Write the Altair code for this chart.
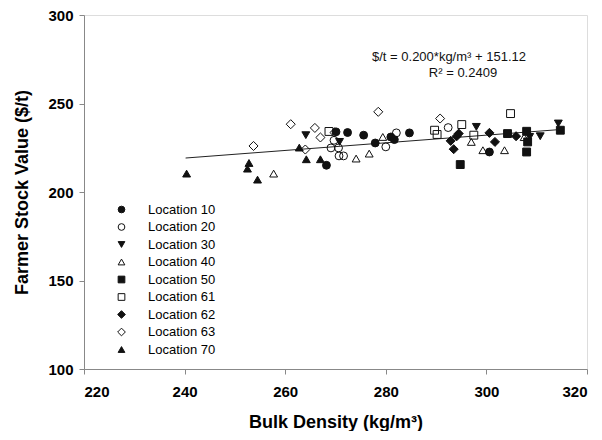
import altair as alt
import pandas as pd

# ---- data ----
loc10_x = [268.2, 272.4, 275.6, 277.9, 281.0, 281.7, 284.7, 270.1, 300.6]
loc10_y = [215.1, 233.6, 232.1, 227.7, 231.1, 229.6, 233.4, 234.0, 222.6]
loc20_x = [269.1, 270.6, 269.7, 270.7, 271.6, 280.0, 282.1, 292.4]
loc20_y = [224.9, 224.9, 229.2, 220.4, 220.4, 225.5, 233.4, 236.4]
loc30_x = [264.1, 270.8, 298.0, 314.3, 310.7, 308.6]
loc30_y = [232.1, 228.3, 236.8, 238.7, 231.5, 231.1]
loc40_x = [257.7, 274.1, 276.7, 279.4, 297.0, 299.3, 303.6, 307.5]
loc40_y = [210.4, 218.9, 221.7, 231.1, 228.3, 223.6, 223.6, 231.0]
loc50_x = [294.8, 304.2, 308.0, 308.0, 308.2, 314.7]
loc50_y = [215.5, 233.0, 234.3, 222.6, 228.3, 234.9]
loc61_x = [268.7, 289.7, 290.2, 295.1, 297.5, 304.8]
loc61_y = [234.2, 234.9, 232.5, 238.1, 232.1, 244.3]
loc62_x = [292.9, 293.5, 294.1, 294.5, 300.6, 301.7, 305.9]
loc62_y = [228.9, 224.2, 231.5, 233.0, 233.4, 228.3, 231.5]
loc63_x = [253.7, 261.1, 264.0, 265.9, 267.0, 269.8, 278.5, 290.8]
loc63_y = [226.0, 238.3, 224.0, 236.2, 230.8, 233.6, 245.3, 241.5]
loc70_x = [240.4, 252.8, 252.5, 254.5, 262.8, 264.2, 267.0]
loc70_y = [210.4, 216.4, 213.2, 207.0, 225.1, 218.5, 218.5]

fit_x = [240.2, 314.7]
fit_y = [219.2, 235.3]

locations = ["Location 10", "Location 20", "Location 30", "Location 40", "Location 50",
             "Location 61", "Location 62", "Location 63", "Location 70"]
DIAMOND = "M0,-1.15L1.15,0L0,1.15L-1.15,0Z"
shapes = ["circle", "circle", "triangle-down", "triangle-up", "square",
          "square", DIAMOND, DIAMOND, "triangle-up"]
fills = ["#111111", "transparent", "#111111", "transparent", "#111111",
         "transparent", "#111111", "transparent", "#111111"]
strokes = ["#111111"] * 9

xs = [loc10_x, loc20_x, loc30_x, loc40_x, loc50_x, loc61_x, loc62_x, loc63_x, loc70_x]
ys = [loc10_y, loc20_y, loc30_y, loc40_y, loc50_y, loc61_y, loc62_y, loc63_y, loc70_y]

rows = []
for name, xv, yv in zip(locations, xs, ys):
    for a, b in zip(xv, yv):
        rows.append({"Location": name, "density": a, "value": b})
df = pd.DataFrame(rows)
fit_df = pd.DataFrame({"density": fit_x, "value": fit_y})

FONT = "Liberation Sans"

xscale = alt.Scale(domain=[220, 320], nice=False, zero=False)
yscale = alt.Scale(domain=[100, 300], nice=False, zero=False)

xaxis = alt.Axis(title="Bulk Density (kg/m³)", values=[220, 240, 260, 280, 300, 320],
                 grid=False, tickSize=5, labelPadding=10, titlePadding=14,
                 labelFontSize=15, labelFontWeight="bold", titleFontSize=18,
                 titleFontWeight="bold")
yaxis = alt.Axis(title="Farmer Stock Value ($/t)", values=[100, 150, 200, 250, 300],
                 grid=False, tickSize=5, labelPadding=6, titlePadding=16,
                 labelFontSize=15, labelFontWeight="bold", titleFontSize=18,
                 titleFontWeight="bold")

legend = alt.Legend(title=None, orient="none", legendX=31, legendY=188,
                    labelFontSize=13, labelFont=FONT, rowPadding=3.5,
                    labelOffset=20, symbolSize=45, padding=0, symbolStrokeWidth=1)

points = alt.Chart(df).mark_point(size=62, strokeWidth=1, opacity=1).encode(
    x=alt.X("density:Q", scale=xscale, axis=xaxis),
    y=alt.Y("value:Q", scale=yscale, axis=yaxis),
    shape=alt.Shape("Location:N", scale=alt.Scale(domain=locations, range=shapes), legend=legend),
    fill=alt.Fill("Location:N", scale=alt.Scale(domain=locations, range=fills), legend=legend),
    stroke=alt.Stroke("Location:N", scale=alt.Scale(domain=locations, range=strokes), legend=legend),
)

fit = alt.Chart(fit_df).mark_line(color="#222222", strokeWidth=1).encode(
    x=alt.X("density:Q", scale=xscale),
    y=alt.Y("value:Q", scale=yscale),
)

eq1 = alt.Chart(pd.DataFrame({"t": ["$/t = 0.200*kg/m³ + 151.12"]})).mark_text(
    fontSize=13, font=FONT, color="#111111", align="center", baseline="middle"
).encode(x=alt.value(365), y=alt.value(42), text="t:N")
eq2 = alt.Chart(pd.DataFrame({"t": ["R² = 0.2409"]})).mark_text(
    fontSize=13, font=FONT, color="#111111", align="center", baseline="middle"
).encode(x=alt.value(379), y=alt.value(58), text="t:N")

chart = alt.layer(fit, points, eq1, eq2).properties(
    width=503, height=354,
    autosize=alt.AutoSizeParams(type="none"),
    padding={"left": 76, "top": 7, "right": 5, "bottom": 62},
).configure_view(stroke="#333333", strokeWidth=1.5).configure_axis(
    domainColor="#333333", domainWidth=1.5, tickColor="#333333", tickWidth=1.2,
    labelColor="#111111", titleColor="#111111", labelFont=FONT, titleFont=FONT,
).configure(background="white")

chart.save("out.html", embed_options={"renderer": "svg", "actions": False})
